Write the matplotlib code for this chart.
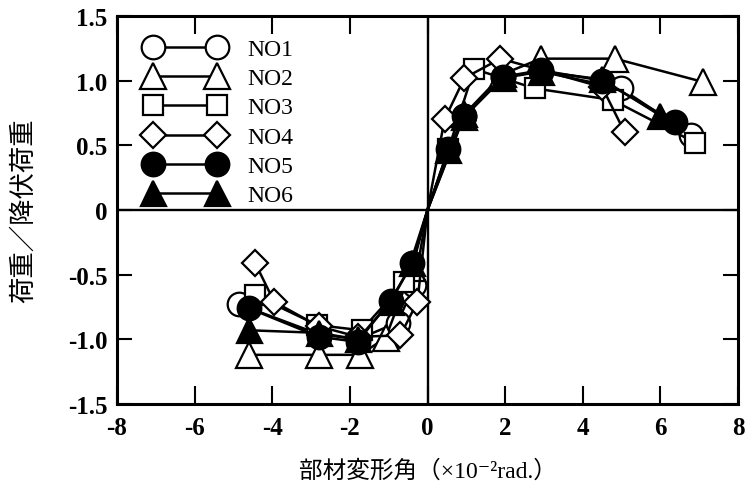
import matplotlib
matplotlib.use("Agg")
import matplotlib.pyplot as plt
import numpy as np

plt.rcParams['font.family'] = ['Liberation Serif', 'Noto Sans CJK JP', 'DejaVu Sans']

# Rotation angle (x1e-2 rad) vs. load / yield load for each specimen
labels = ["NO1", "NO2", "NO3", "NO4", "NO5", "NO6"]

no1_x = [-4.85, -2.8, -1.8, -0.77, -0.34, 0.0, 0.95, 1.94, 2.92, 4.98, 6.8]
no1_y = [-0.73, -0.96, -1.0, -0.87, -0.58, 0.0, 0.73, 1.03, 1.07, 0.94, 0.58]

no2_x = [-4.6, -2.8, -1.75, -1.08, -0.4, 0.0, 0.95, 1.94, 2.92, 4.83, 7.1]
no2_y = [-1.12, -1.12, -1.12, -0.99, -0.45, 0.0, 0.74, 1.05, 1.17, 1.17, 0.99]

no3_x = [-4.44, -2.84, -1.7, -0.6, 0.0, 0.54, 1.2, 2.76, 4.77, 6.9]
no3_y = [-0.66, -0.89, -0.93, -0.56, 0.0, 0.47, 1.09, 0.94, 0.85, 0.52]

no4_x = [-4.44, -3.95, -2.8, -1.8, -0.7, -0.26, 0.0, 0.44, 0.95, 1.88, 4.5, 5.08]
no4_y = [-0.41, -0.71, -0.9, -0.98, -0.97, -0.71, 0.0, 0.70, 1.02, 1.17, 0.95, 0.6]

no5_x = [-4.6, -2.8, -1.8, -0.95, -0.39, 0.0, 0.54, 0.95, 1.94, 2.92, 4.5, 6.37]
no5_y = [-0.76, -0.98, -1.02, -0.70, -0.41, 0.0, 0.47, 0.73, 1.03, 1.08, 1.0, 0.68]

no6_x = [-4.6, -2.8, -1.8, -0.95, -0.39, 0.0, 0.54, 0.95, 1.94, 2.92, 4.5, 6.0]
no6_y = [-0.93, -0.95, -1.0, -0.71, -0.41, 0.0, 0.46, 0.72, 1.02, 1.07, 1.01, 0.73]

series = [
    (no1_x, no1_y, dict(marker='o', ms=17, mfc='white')),
    (no2_x, no2_y, dict(marker='^', ms=19, mfc='white')),
    (no3_x, no3_y, dict(marker='s', ms=15, mfc='white')),
    (no4_x, no4_y, dict(marker='D', ms=13.5, mfc='white')),
    (no5_x, no5_y, dict(marker='o', ms=17, mfc='black')),
    (no6_x, no6_y, dict(marker='^', ms=18, mfc='black')),
]

fig = plt.figure(figsize=(7.51, 4.89), dpi=100)
ax = fig.add_axes([0.1558, 0.1718, 0.8269, 0.7935])

# axes through the origin
ax.axhline(0, color='black', lw=1.7, zorder=1)
ax.axvline(0, color='black', lw=1.7, zorder=1)

for (xs, ys, st), lab in zip(series, labels):
    xs = np.asarray(xs)
    ys = np.asarray(ys)
    keep = [i for i in range(len(xs)) if not (xs[i] == 0 and ys[i] == 0)]
    ax.plot(xs, ys, color='black', lw=1.8, mec='black', mew=1.6,
            markevery=keep, label=lab, zorder=3, **st)

ax.set_xlim(-8, 8)
ax.set_ylim(-1.5, 1.5)
ax.set_xticks(np.arange(-8, 9, 2))
ax.set_xticklabels([str(v) for v in range(-8, 9, 2)], fontweight='bold')
ax.set_yticks([-1.5, -1.0, -0.5, 0, 0.5, 1.0, 1.5])
ax.set_yticklabels(["-1.5", "-1.0", "-0.5", "0", "0.5", "1.0", "1.5"],
                   fontweight='bold')
ax.tick_params(axis='x', direction='in', length=13, width=1.5, top=True,
               labelsize=18, pad=9)
ax.tick_params(axis='y', direction='in', length=11, width=1.5, right=True,
               labelsize=18, pad=7)
for sp in ax.spines.values():
    sp.set_linewidth(2.2)

ax.set_xlabel("部材変形角（×10⁻²rad.）", fontsize=17, labelpad=14)
ax.set_ylabel("荷重／降伏荷重", fontsize=19, labelpad=22,
              family=['Noto Sans CJK JP'])

leg = ax.legend(loc='upper left', bbox_to_anchor=(0.02, 0.985), frameon=False,
                fontsize=17, numpoints=2, handlelength=3.3, labelspacing=0.33,
                handletextpad=1.0, borderaxespad=0.3)

fig.savefig("out.png", dpi=100)
